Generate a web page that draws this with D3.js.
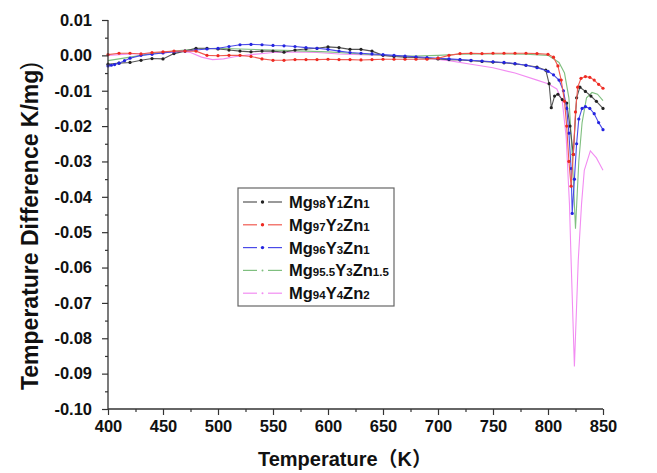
<!DOCTYPE html>
<html><head><meta charset="utf-8">
<script src="https://cdn.jsdelivr.net/npm/d3@7"></script>
<style>body{margin:0;background:#fff}svg{display:block}</style>
</head><body>
<svg id="c" width="657" height="473"></svg>
<script>
// ---- data ----
const xTicks = [400,450,500,550,600,650,700,750,800,850];
const xTickLabels = ["400","450","500","550","600","650","700","750","800","850"];
const yTicks = [0.01,0,-0.01,-0.02,-0.03,-0.04,-0.05,-0.06,-0.07,-0.08,-0.09,-0.10];
const yTickLabels = ["0.01","0.00","-0.01","-0.02","-0.03","-0.04","-0.05","-0.06","-0.07","-0.08","-0.09","-0.10"];

const blackT = [400,410,420,430,440,450,460,470,480,490,500,510,520,530,540,550,560,570,580,590,600,610,620,630,640,650,660,670,680,690,700,710,720,730,740,750,760,770,780,790,798,801,803,806,809,813,817,820,823,826,829,834,839,844,850];
const blackV = [-0.0025,-0.0022,-0.002,-0.0014,-0.0009,-0.001,0.0005,0.0012,0.002,0.002,0.0018,0.0015,0.0012,0.001,0.0012,0.0012,0.0009,0.0015,0.0018,0.002,0.0024,0.0022,0.0017,0.0017,0.0012,0.0,-0.0003,-0.0005,-0.0006,-0.0008,-0.001,-0.0012,-0.0013,-0.0015,-0.0017,-0.0019,-0.0021,-0.0024,-0.0028,-0.0033,-0.0042,-0.008,-0.0148,-0.0115,-0.011,-0.0125,-0.0135,-0.02,-0.028,-0.012,-0.009,-0.0102,-0.0115,-0.013,-0.015];

const redT = [400,410,420,430,440,450,460,470,480,490,500,510,520,530,540,550,560,570,580,590,600,610,620,630,640,650,660,670,680,690,700,710,720,730,740,750,760,770,780,790,800,805,809,812,815,817,819,821,823,825,827,830,834,838,842,846,850];
const redV = [0.0002,0.0006,0.0006,0.0004,0.0008,0.001,0.0012,0.0012,0.0012,0.0,-0.0001,0.0,0.0,-0.0003,-0.001,-0.0014,-0.0014,-0.0012,-0.0012,-0.0012,-0.0011,-0.0012,-0.0012,-0.0013,-0.0012,-0.0011,-0.0011,-0.0011,-0.0011,-0.0011,-0.0008,0.0,0.0005,0.0006,0.0005,0.0006,0.0006,0.0006,0.0006,0.0005,0.0003,-0.0005,-0.003,-0.007,-0.013,-0.02,-0.03,-0.037,-0.028,-0.016,-0.009,-0.0065,-0.006,-0.0062,-0.007,-0.0082,-0.0093];

const blueT = [400,403,406,410,415,420,430,440,450,460,470,480,490,500,510,520,530,540,550,560,570,580,590,600,610,620,630,640,650,660,670,680,690,700,710,720,730,740,750,760,770,780,790,800,805,810,814,817,819,821,822,824,826,828,831,834,838,842,846,850];
const blueV = [-0.003,-0.0028,-0.0026,-0.0022,-0.0015,-0.0008,0.0,0.0003,0.0007,0.001,0.0012,0.0015,0.0018,0.002,0.0025,0.003,0.0031,0.003,0.0028,0.0027,0.0025,0.0022,0.002,0.0017,0.0012,0.0008,0.0006,0.0004,0.0002,0.0,-0.0002,-0.0004,-0.0006,-0.0008,-0.001,-0.0012,-0.0014,-0.0016,-0.0018,-0.002,-0.0023,-0.0028,-0.0035,-0.0045,-0.0055,-0.007,-0.01,-0.015,-0.022,-0.032,-0.0447,-0.035,-0.025,-0.018,-0.015,-0.0145,-0.015,-0.0165,-0.019,-0.021];

const greenT = [400,420,440,460,480,500,520,540,560,580,600,620,640,660,680,700,720,740,760,780,800,810,815,819,822,825,828,831,835,840,845,850];
const greenV = [-0.0015,-0.0005,0.0005,0.0012,0.0018,0.002,0.0018,0.0016,0.0014,0.0012,0.001,0.0006,0.0002,-0.0002,-0.0002,0.0,0.0003,0.0004,0.0004,0.0003,0.0,-0.002,-0.005,-0.012,-0.028,-0.049,-0.03,-0.019,-0.012,-0.0105,-0.011,-0.0128];

const pinkT = [400,420,440,455,465,475,485,495,505,515,530,550,570,590,610,630,650,670,690,710,730,750,770,790,800,808,813,816.5,819.5,821,824,827.5,830.5,833,838.5,844,850];
const pinkV = [0.0,0.0004,0.0006,0.0008,0.0012,0.0008,-0.0005,-0.0012,-0.001,-0.0004,0.0002,0.0008,0.001,0.0008,0.0004,0.0002,0.0,-0.0003,-0.0008,-0.0015,-0.0025,-0.0035,-0.005,-0.007,-0.008,-0.0095,-0.013,-0.023,-0.042,-0.058,-0.088,-0.058,-0.042,-0.0325,-0.027,-0.029,-0.0325];

const seriesNames = ["Mg98Y1Zn1","Mg97Y2Zn1","Mg96Y3Zn1","Mg95.5Y3Zn1.5","Mg94Y4Zn2"];
const seriesLabelParts = [
  [["Mg",0],["98",1],["Y",0],["1",1],["Zn",0],["1",1]],
  [["Mg",0],["97",1],["Y",0],["2",1],["Zn",0],["1",1]],
  [["Mg",0],["96",1],["Y",0],["3",1],["Zn",0],["1",1]],
  [["Mg",0],["95.5",1],["Y",0],["3",1],["Zn",0],["1.5",1]],
  [["Mg",0],["94",1],["Y",0],["4",1],["Zn",0],["2",1]]
];
const seriesColors = ["#222222","#ee2a22","#2424e0","#6fae6f","#f07af0"];
const lineColors = ["#555555","#f05a50","#4a4ae8","#7fbf7f","#f28cf2"];
const seriesMarkers = [true,true,true,false,false];

// ---- chart ----
const svg = d3.select("#c");
const x = d3.scaleLinear().domain([400,850]).range([108,603]);
const y = d3.scaleLinear().domain([-0.10,0.01]).range([409,20]);
const font = "'Liberation Sans', Arial, 'Noto Sans CJK SC', sans-serif";

const series = [
  {T:blackT, V:blackV},{T:redT, V:redV},{T:blueT, V:blueV},{T:greenT, V:greenV},{T:pinkT, V:pinkV}
].map((s,i)=>({name:seriesNames[i], pts:s.T.map((t,j)=>[t,s.V[j]]), color:seriesColors[i], line:lineColors[i], marker:seriesMarkers[i]}));

const line = d3.line().x(d=>x(d[0])).y(d=>y(d[1]));
const drawOrder = [4,3,0,2,1];
drawOrder.forEach(i=>{
  const s = series[i];
  svg.append("path").attr("d", line(s.pts)).attr("fill","none")
    .attr("stroke", s.line).attr("stroke-width",1.1);
  if (s.marker) {
    svg.append("g").selectAll("circle").data(s.pts).join("circle")
      .attr("cx",d=>x(d[0])).attr("cy",d=>y(d[1])).attr("r",1.6).attr("fill",s.color);
  }
});

// axes
const axisColor = "#333";
const minorX = d3.range(425,850,50);
const minorY = d3.range(-0.095,0.01,0.01);
const gx = svg.append("g").attr("transform","translate(0,409)");
gx.call(d3.axisBottom(x).tickValues(xTicks).tickSize(6).tickPadding(5).tickFormat((d,i)=>xTickLabels[i]));
const gxm = svg.append("g").attr("transform","translate(0,409)");
gxm.call(d3.axisBottom(x).tickValues(minorX).tickSize(3).tickFormat(""));
gxm.select(".domain").remove();
const gy = svg.append("g").attr("transform","translate(108,0)");
gy.call(d3.axisLeft(y).tickValues(yTicks).tickSize(6).tickPadding(10).tickFormat((d,i)=>yTickLabels[i]));
const gym = svg.append("g").attr("transform","translate(108,0)");
gym.call(d3.axisLeft(y).tickValues(minorY).tickSize(3).tickFormat(""));
gym.select(".domain").remove();
[gx,gxm,gy,gym].forEach(g=>{
  g.selectAll(".domain").attr("stroke",axisColor).attr("stroke-width",1.3);
  g.selectAll(".tick line").attr("stroke",axisColor).attr("stroke-width",1.2);
  g.selectAll("text").attr("fill","#111").style("font-family",font).style("font-size","16.5px").style("font-weight","bold");
});
gx.select(".domain").attr("d","M108,0H603");
gy.select(".domain").attr("d","M0,20V409");

// axis titles
svg.append("text").attr("x",345).attr("y",466).attr("text-anchor","middle")
  .style("font-family",font).style("font-size","20px").style("font-weight","bold").attr("fill","#111")
  .text("Temperature（K）");
const yt = svg.append("text").attr("transform","translate(38,226) rotate(-90)").attr("text-anchor","middle")
  .style("font-family",font).style("font-size","23px").style("font-weight","bold").attr("fill","#111");
yt.append("tspan").text("Temperature Difference K/mg");
yt.append("tspan").style("font-weight","normal").text(")");

// legend
const lg = svg.append("g");
lg.append("rect").attr("x",238).attr("y",188).attr("width",156).attr("height",118)
  .attr("fill","#fff").attr("stroke","#666").attr("stroke-width",1.2);
series.forEach((s,i)=>{
  const yy = 202 + i*22.8;
  lg.append("line").attr("x1",243).attr("x2",257).attr("y1",yy).attr("y2",yy).attr("stroke",s.line).attr("stroke-width",1.2);
  lg.append("line").attr("x1",268).attr("x2",282).attr("y1",yy).attr("y2",yy).attr("stroke",s.line).attr("stroke-width",1.2);
  lg.append("circle").attr("cx",262.5).attr("cy",yy).attr("r",s.marker?1.7:1).attr("fill",s.marker?s.color:s.line);
  const t = lg.append("text").attr("x",289).attr("y",yy+6).attr("fill","#111")
    .style("font-family",font).style("font-weight","bold");
  seriesLabelParts[i].forEach(p=>{
    t.append("tspan").style("font-size",p[1]?"11.5px":"16.5px").text(p[0]);
  });
});
</script>
</body></html>
